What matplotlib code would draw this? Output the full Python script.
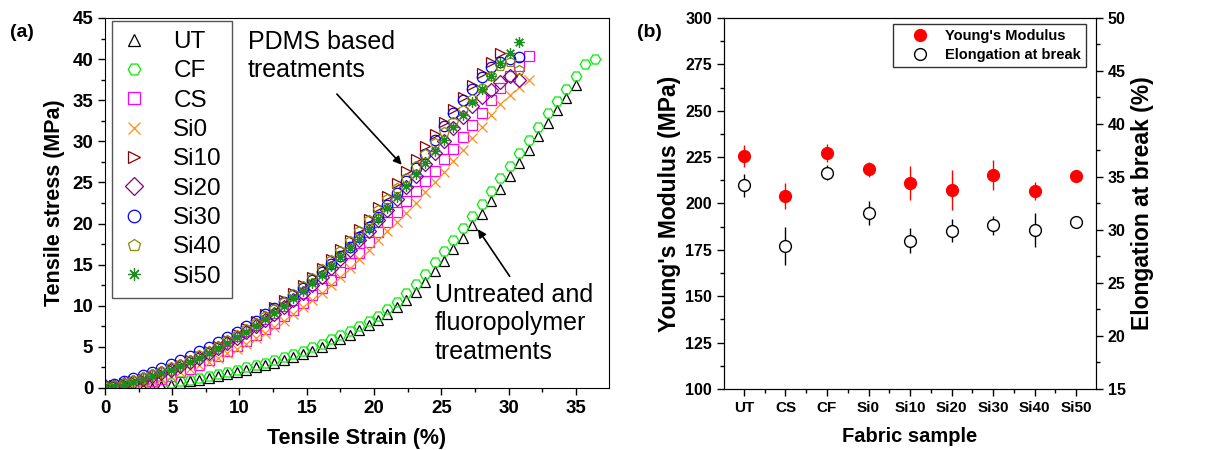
import numpy as np
import matplotlib
matplotlib.use("Agg")
import matplotlib.pyplot as plt
from matplotlib.ticker import MultipleLocator
from matplotlib.lines import Line2D

plt.rcParams['font.family'] = ['Liberation Sans', 'DejaVu Sans']

# ---- panel (a): stress-strain data, sampled every 0.7 % strain ----
strain_grid = [0.0, 0.7, 1.4, 2.1, 2.8, 3.5, 4.2, 4.9, 5.6, 6.3, 7.0, 7.7, 8.4, 9.1,
               9.8, 10.5, 11.2, 11.9, 12.6, 13.3, 14.0, 14.7, 15.4, 16.1, 16.8, 17.5,
               18.2, 18.9, 19.6, 20.3, 21.0, 21.7, 22.4, 23.1, 23.8, 24.5, 25.2, 25.9,
               26.6, 27.3, 28.0, 28.7, 29.4, 30.1, 30.8, 31.5, 32.2, 32.9, 33.6, 34.3,
               35.0, 35.7, 36.4]

# UT and CF start at 2.8 % strain (index 4)
ut_stress = [0.0, 0.05, 0.2, 0.4, 0.6, 0.8, 1.0, 1.2, 1.45, 1.7, 1.95, 2.2, 2.5, 2.8,
             3.1, 3.45, 3.8, 4.15, 4.55, 5.0, 5.45, 5.95, 6.5, 7.05, 7.65, 8.3, 9.0,
             9.8, 10.7, 11.7, 12.9, 14.2, 15.5, 16.9, 18.3, 19.8, 21.2, 22.7, 24.2,
             25.8, 27.4, 29.0, 30.6, 32.2, 33.8, 35.3, 36.8]
cf_stress = [0.0, 0.1, 0.35, 0.6, 0.8, 1.0, 1.2, 1.45, 1.7, 1.95, 2.2, 2.5, 2.8, 3.1,
             3.45, 3.8, 4.15, 4.55, 4.95, 5.4, 5.9, 6.4, 6.95, 7.5, 8.1, 8.8, 9.6,
             10.5, 11.5, 12.6, 13.9, 15.3, 16.7, 18.0, 19.4, 20.9, 22.4, 23.9, 25.5,
             27.0, 28.6, 30.2, 31.8, 33.4, 34.9, 36.4, 37.9, 39.4, 40.0]
cs_stress = [0.1, 0.15, 0.25, 0.4, 0.6, 0.85, 1.15, 1.5, 1.9, 2.35, 2.85, 3.35, 3.9,
             4.5, 5.1, 5.75, 6.45, 7.15, 7.9, 8.7, 9.5, 10.35, 11.25, 12.15, 13.1,
             14.1, 15.2, 16.4, 17.7, 19.0, 20.2, 21.4, 22.7, 24.0, 25.2, 26.4, 27.8,
             29.1, 30.5, 32.0, 33.5, 35.0, 36.5, 37.9, 39.2, 40.4]
si0_stress = [0.1, 0.15, 0.25, 0.4, 0.6, 0.85, 1.15, 1.5, 1.9, 2.3, 2.75, 3.2, 3.7,
              4.25, 4.8, 5.4, 6.05, 6.7, 7.4, 8.15, 8.95, 9.8, 10.7, 11.6, 12.55,
              13.55, 14.6, 15.7, 16.8, 17.95, 19.1, 20.2, 21.3, 22.5, 23.8, 25.0,
              26.3, 27.6, 29.0, 30.4, 31.8, 33.2, 34.5, 35.6, 36.6, 37.5]
si10_stress = [0.2, 0.35, 0.55, 0.8, 1.1, 1.45, 1.85, 2.3, 2.8, 3.35, 3.9, 4.5, 5.15,
               5.85, 6.6, 7.35, 8.15, 8.95, 9.8, 10.7, 11.6, 12.55, 13.55, 14.6, 15.7,
               16.85, 18.0, 19.3, 20.6, 22.0, 23.4, 24.9, 26.4, 27.9, 29.4, 30.9,
               32.4, 33.9, 35.4, 36.9, 38.3, 39.6, 40.8]
si20_stress = [0.2, 0.3, 0.5, 0.75, 1.05, 1.4, 1.8, 2.2, 2.65, 3.15, 3.7, 4.25, 4.85,
               5.45, 6.1, 6.8, 7.5, 8.25, 9.0, 9.85, 10.7, 11.6, 12.55, 13.55, 14.6,
               15.7, 16.8, 17.95, 19.15, 20.4, 21.7, 23.0, 24.4, 25.8, 27.2, 28.6,
               30.1, 31.6, 33.0, 34.3, 35.4, 36.3, 37.2, 37.9, 37.4]
si30_stress = [0.25, 0.5, 0.85, 1.2, 1.6, 2.0, 2.45, 2.9, 3.4, 3.9, 4.45, 5.0, 5.6,
               6.2, 6.85, 7.5, 8.2, 8.95, 9.7, 10.5, 11.35, 12.2, 13.1, 14.05, 15.05,
               16.1, 17.2, 18.35, 19.55, 20.8, 22.2, 23.7, 25.2, 26.8, 28.5, 30.2,
               31.9, 33.5, 35.0, 36.4, 37.8, 39.0, 39.6, 40.0, 40.2]
si40_stress = [0.2, 0.4, 0.65, 0.95, 1.3, 1.65, 2.05, 2.5, 2.95, 3.45, 4.0, 4.55, 5.15,
               5.8, 6.45, 7.15, 7.9, 8.7, 9.55, 10.45, 11.4, 12.4, 13.4, 14.45, 15.55,
               16.7, 17.9, 19.15, 20.4, 21.7, 23.0, 24.3, 25.6, 27.0, 28.4, 29.8,
               31.1, 32.4, 33.8, 35.2, 36.5, 37.9, 39.2, 39.7, 38.7]
si50_stress = [0.2, 0.3, 0.5, 0.75, 1.05, 1.4, 1.8, 2.2, 2.65, 3.15, 3.7, 4.25, 4.85,
               5.5, 6.15, 6.85, 7.6, 8.35, 9.15, 10.0, 10.9, 11.8, 12.75, 13.75, 14.8,
               15.9, 17.0, 18.15, 19.35, 20.6, 21.9, 23.2, 24.6, 26.0, 27.4, 28.8,
               30.2, 31.7, 33.2, 34.8, 36.4, 38.0, 39.5, 40.8, 42.1]

# ---- panel (b): mechanical properties ----
samples = ['UT', 'CS', 'CF', 'Si0', 'Si10', 'Si20', 'Si30', 'Si40', 'Si50']
modulus = [225.7, 204.0, 227.3, 218.5, 211.0, 207.3, 215.4, 206.8, 215.0]
modulus_err = [6.0, 7.0, 5.0, 4.0, 9.0, 11.0, 8.0, 5.0, 1.0]
elongation = [34.2, 28.5, 35.4, 31.6, 29.0, 29.95, 30.45, 30.0, 30.75]
elongation_err = [1.1, 1.8, 0.7, 1.1, 1.2, 1.1, 0.9, 1.6, 0.2]

series = [
    ('UT', ut_stress, 4, '^', 'black'),
    ('CF', cf_stress, 4, 'H', '#00ee00'),
    ('CS', cs_stress, 0, 's', '#ff00ff'),
    ('Si0', si0_stress, 0, 'x', '#ff8c1a'),
    ('Si10', si10_stress, 0, '>', '#8b0000'),
    ('Si20', si20_stress, 0, 'D', '#800080'),
    ('Si30', si30_stress, 0, 'o', '#0000ff'),
    ('Si40', si40_stress, 0, 'p', '#8a8a00'),
    ('Si50', si50_stress, 0, (8, 2, 0), '#1e8c1e'),
]

fig = plt.figure(figsize=(12.22, 4.5), dpi=100)
ax1 = fig.add_axes([0.0859, 0.1378, 0.4125, 0.8222])
ax2 = fig.add_axes([0.5925, 0.1356, 0.3044, 0.8244])

for name, stress, start, marker, color in series:
    x = np.array(strain_grid[start:start + len(stress)])
    ax1.plot(x, stress, linestyle='none', marker=marker, markersize=7.5,
             markerfacecolor='none', markeredgecolor=color, markeredgewidth=0.9,
             label=name)

ax1.set_xlim(0, 37.47)
ax1.set_ylim(0, 45)
ax1.xaxis.set_major_locator(MultipleLocator(5))
ax1.xaxis.set_minor_locator(MultipleLocator(2.5))
ax1.yaxis.set_major_locator(MultipleLocator(5))
ax1.yaxis.set_minor_locator(MultipleLocator(2.5))
ax1.tick_params(which='major', direction='out', length=5, width=1, labelsize=13.5)
ax1.tick_params(which='minor', direction='out', length=3, width=1)
for lab in ax1.get_xticklabels() + ax1.get_yticklabels():
    lab.set_fontweight('bold')
ax1.set_xlabel('Tensile Strain (%)', fontsize=15.5, fontweight='bold', labelpad=8)
ax1.set_ylabel('Tensile stress (MPa)', fontsize=15.5, fontweight='bold', labelpad=5)

leg1 = ax1.legend(loc='upper left', bbox_to_anchor=(0.014, 0.992), fontsize=17.5,
                  frameon=True, fancybox=False, edgecolor='#555555', framealpha=1,
                  handlelength=1.0, handletextpad=1.1, labelspacing=0.3,
                  borderpad=0.42, borderaxespad=0, markerscale=1.2)
leg1.get_frame().set_linewidth(1.0)

ax1.text(10.6, 43.6, 'PDMS based\ntreatments', fontsize=18, va='top', ha='left',
         linespacing=1.25)
ax1.annotate('', xy=(22.2, 26.9), xytext=(17.1, 36.0),
             arrowprops=dict(arrowstyle='-|>', color='black', lw=1.2,
                             mutation_scale=12))
ax1.text(24.5, 12.8, 'Untreated and\nfluoropolymer\ntreatments', fontsize=18,
         va='top', ha='left', linespacing=1.25)
ax1.annotate('', xy=(27.6, 19.6), xytext=(30.2, 13.3),
             arrowprops=dict(arrowstyle='-|>', color='black', lw=1.2,
                             mutation_scale=12))

# panel (b)
pos = np.arange(len(samples))
ax2.errorbar(pos, modulus, yerr=modulus_err, fmt='o', color='red', ecolor='red',
             markersize=8.5, elinewidth=1.0, capsize=0)
ax2.set_xlim(-0.48, 8.48)
ax2.set_ylim(100, 300)
ax2.set_xticks(pos)
ax2.set_xticklabels(samples)
ax2.xaxis.set_minor_locator(MultipleLocator(0.5))
ax2.yaxis.set_major_locator(MultipleLocator(25))
ax2.yaxis.set_minor_locator(MultipleLocator(12.5))
ax2.tick_params(which='major', direction='out', length=5, width=1, labelsize=11.5)
ax2.tick_params(axis='x', which='major', labelsize=11)
ax2.tick_params(which='minor', direction='out', length=3, width=1)
ax2.set_xlabel('Fabric sample', fontsize=14.5, fontweight='bold', labelpad=9)
ax2.set_ylabel("Young's Modulus (MPa)", fontsize=16.5, fontweight='bold', labelpad=3)

ax3 = ax2.twinx()
ax3.errorbar(pos, elongation, yerr=elongation_err, fmt='o', color='black',
             markerfacecolor='white', markeredgecolor='black', markeredgewidth=1.0,
             ecolor='black', markersize=8.5, elinewidth=1.0, capsize=0)
ax3.set_ylim(15, 50)
ax3.yaxis.set_major_locator(MultipleLocator(5))
ax3.yaxis.set_minor_locator(MultipleLocator(2.5))
ax3.tick_params(which='major', direction='out', length=5, width=1, labelsize=11.5)
ax3.tick_params(which='minor', direction='out', length=3, width=1)
ax3.set_ylabel('Elongation at break (%)', fontsize=16.5, fontweight='bold', labelpad=4)

for lab in ax2.get_xticklabels() + ax2.get_yticklabels() + ax3.get_yticklabels():
    lab.set_fontweight('bold')

handles = [Line2D([], [], linestyle='none', marker='o', markersize=8.5, color='red'),
           Line2D([], [], linestyle='none', marker='o', markersize=8.5,
                  markerfacecolor='white', markeredgecolor='black', markeredgewidth=1.0)]
leg2 = ax3.legend(handles, ["Young's Modulus", 'Elongation at break'],
                  loc='upper left', bbox_to_anchor=(0.454, 0.985),
                  prop={'weight': 'bold', 'size': 10.5}, frameon=True,
                  fancybox=False, edgecolor='#333333', framealpha=1,
                  handlelength=3.0, handletextpad=0.25, labelspacing=0.35,
                  borderpad=0.35, borderaxespad=0)
leg2.get_frame().set_linewidth(1.0)

fig.text(0.008, 0.918, '(a)', fontsize=14, fontweight='bold')
fig.text(0.521, 0.918, '(b)', fontsize=14, fontweight='bold')

fig.savefig('out.png', dpi=100)
